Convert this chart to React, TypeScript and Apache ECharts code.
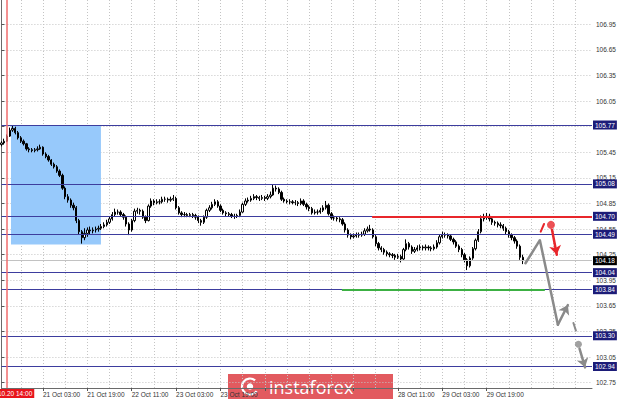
import React, { useEffect, useRef } from 'react';
import * as echarts from 'echarts';

// ---------- data ----------
const firstOpen = 105.54;
const closes = [
  105.56,105.58,105.64,105.71,105.73,105.68,105.62,105.58,105.55,105.49,
  105.48,105.47,105.48,105.49,105.51,105.43,105.40,105.36,105.31,105.28,
  105.23,105.18,105.03,104.93,104.89,104.83,104.80,104.65,104.52,104.45,
  104.50,104.54,104.53,104.54,104.55,104.56,104.58,104.60,104.63,104.67,
  104.72,104.75,104.75,104.72,104.69,104.61,104.54,104.65,104.76,104.77,
  104.76,104.69,104.65,104.82,104.88,104.86,104.87,104.87,104.90,104.90,
  104.89,104.90,104.91,104.80,104.74,104.72,104.72,104.71,104.72,104.71,
  104.69,104.65,104.63,104.69,104.77,104.80,104.84,104.87,104.82,104.77,
  104.74,104.73,104.72,104.70,104.70,104.71,104.75,104.84,104.88,104.89,
  104.91,104.93,104.92,104.91,104.92,104.91,104.93,104.95,105.03,105.02,
  104.98,104.90,104.88,104.87,104.87,104.86,104.86,104.85,104.88,104.84,
  104.81,104.79,104.74,104.75,104.75,104.77,104.80,104.83,104.73,104.68,
  104.68,104.67,104.66,104.61,104.54,104.48,104.46,104.47,104.48,104.48,
  104.49,104.53,104.55,104.54,104.46,104.38,104.33,104.31,104.28,104.26,
  104.25,104.24,104.22,104.23,104.20,104.31,104.38,104.34,104.29,104.31,
  104.33,104.34,104.33,104.34,104.33,104.32,104.34,104.39,104.46,104.48,
  104.48,104.47,104.43,104.40,104.35,104.31,104.25,104.19,104.12,104.21,
  104.32,104.42,104.52,104.67,104.69,104.70,104.67,104.63,104.62,104.60,
  104.59,104.56,104.52,104.48,104.45,104.41,104.35,104.22,104.18,
];
const highs = [
  105.58,105.61,105.66,105.74,105.77,105.75,105.70,105.64,105.60,105.56,
  105.51,105.50,105.50,105.52,105.54,105.52,105.45,105.42,105.37,105.33,
  105.30,105.25,105.20,105.05,104.96,104.91,104.86,104.82,104.67,104.54,
  104.56,104.57,104.58,104.57,104.58,104.59,104.61,104.63,104.66,104.70,
  104.75,104.79,104.78,104.77,104.74,104.71,104.63,104.67,104.79,104.80,
  104.79,104.78,104.71,104.84,104.91,104.90,104.90,104.90,104.93,104.93,
  104.92,104.93,104.95,104.93,104.82,104.76,104.75,104.74,104.74,104.74,
  104.73,104.71,104.67,104.71,104.79,104.83,104.87,104.90,104.89,104.84,
  104.79,104.76,104.75,104.74,104.73,104.73,104.78,104.86,104.91,104.92,
  104.94,104.96,104.95,104.94,104.95,104.94,104.96,104.99,105.07,105.06,
  105.04,105.00,104.92,104.90,104.90,104.89,104.89,104.88,104.91,104.90,
  104.86,104.83,104.81,104.78,104.78,104.80,104.83,104.88,104.85,104.75,
  104.71,104.70,104.69,104.68,104.63,104.56,104.50,104.50,104.51,104.51,
  104.52,104.56,104.58,104.60,104.56,104.48,104.40,104.35,104.33,104.30,
  104.28,104.27,104.26,104.26,104.25,104.33,104.43,104.40,104.36,104.34,
  104.36,104.37,104.36,104.37,104.36,104.35,104.37,104.42,104.49,104.52,
  104.51,104.50,104.49,104.45,104.42,104.37,104.33,104.27,104.21,104.23,
  104.34,104.44,104.55,104.71,104.73,104.74,104.73,104.69,104.65,104.64,
  104.63,104.61,104.58,104.54,104.50,104.47,104.43,104.37,104.25,
];
const lows = [
  105.52,105.54,105.57,105.63,105.69,105.66,105.60,105.56,105.53,105.47,
  105.45,105.45,105.45,105.46,105.48,105.41,105.38,105.34,105.29,105.26,
  105.21,105.16,105.01,104.90,104.86,104.80,104.77,104.62,104.49,104.38,
  104.42,104.46,104.49,104.50,104.51,104.52,104.54,104.56,104.58,104.61,
  104.65,104.70,104.72,104.70,104.66,104.58,104.48,104.52,104.63,104.73,
  104.72,104.67,104.62,104.64,104.80,104.83,104.84,104.84,104.85,104.87,
  104.86,104.87,104.88,104.78,104.72,104.69,104.69,104.69,104.69,104.68,
  104.66,104.62,104.59,104.61,104.67,104.75,104.78,104.82,104.80,104.75,
  104.72,104.70,104.70,104.68,104.67,104.68,104.69,104.74,104.82,104.86,
  104.87,104.89,104.89,104.88,104.89,104.88,104.89,104.91,104.94,104.99,
  104.96,104.88,104.86,104.85,104.84,104.84,104.83,104.82,104.83,104.82,
  104.78,104.76,104.72,104.72,104.72,104.73,104.75,104.78,104.71,104.66,
  104.65,104.64,104.63,104.59,104.51,104.45,104.43,104.44,104.45,104.45,
  104.46,104.47,104.51,104.52,104.44,104.35,104.30,104.28,104.25,104.23,
  104.22,104.21,104.19,104.20,104.16,104.19,104.29,104.31,104.26,104.27,
  104.29,104.30,104.30,104.30,104.30,104.29,104.30,104.32,104.37,104.44,
  104.45,104.44,104.41,104.37,104.33,104.28,104.22,104.16,104.07,104.10,
  104.19,104.30,104.40,104.50,104.64,104.66,104.64,104.60,104.59,104.57,
  104.56,104.53,104.49,104.45,104.42,104.38,104.32,104.19,104.14,
];

const tickValues = [106.95, 106.65, 106.35, 106.05, 105.75, 105.45, 105.15, 104.85, 104.55, 104.25, 103.95, 103.65, 103.35, 103.05, 102.75];
const tickLabelValues = [106.95, 106.65, 106.35, 106.05, 105.45, 105.15, 104.85, 104.55, 104.25, 103.95, 103.65, 103.35, 103.05, 102.75];
const levelLines = [105.77, 105.08, 104.70, 104.49, 104.04, 103.84, 103.30, 102.94];
const bidPrice = 104.18;
const resistanceLevel = 104.70;
const resistanceFrom = 133.7;
const supportLevel = 103.84;
const supportRange = [122.8, 196.0];
const boxRange = { x: [3.46, 35.9], y: [105.77, 104.37] };
const eventIndex = 2;
const eventLabel = '2020.10.20 14:00';
// time labels that sit under the logo in the reference are not shown
const coveredLabelIdx = [95, 111, 127];

// projection drawing (bar index, price)
const grayPath = [[189.0, 104.15], [194.2, 104.42], [200.7, 103.43]];
const grayArrow1 = [[200.7, 103.43], [204.3, 103.66]];
const grayTick = [[206.3, 103.45], [207.2, 103.36]];
const grayDot = [208.1, 103.2];
const grayArrow2 = [[208.5, 103.15], [210.5, 102.93]];
const redTick = [[194.5, 104.52], [195.7, 104.61]];
const redDot = [198.2, 104.6];
const redArrow = [[198.6, 104.54], [200.3, 104.25]];

const totalSlots = 214;
const startUTC = Date.UTC(2020, 9, 20, 12);
const months = ['Jan', 'Feb', 'Mar', 'Apr', 'May', 'Jun', 'Jul', 'Aug', 'Sep', 'Oct', 'Nov', 'Dec'];

function buildTimes(): string[] {
  const out: string[] = [];
  let t = startUTC;
  while (out.length < totalSlots) {
    const d = new Date(t);
    const wd = d.getUTCDay();
    if (wd !== 0 && wd !== 6) {
      const hh = String(d.getUTCHours()).padStart(2, '0');
      out.push(`${d.getUTCDate()} ${months[d.getUTCMonth()]} ${hh}:00`);
    }
    t += 3600000;
  }
  return out;
}

const NAVY_LINE = '#3d3d9e';
const NAVY_BOX = '#1c1c78';
const FONT = '"Liberation Sans", Arial, sans-serif';

export default function App() {
  const ref = useRef<HTMLDivElement>(null);
  useEffect(() => {
    if (!ref.current) return;
    const chart = echarts.init(ref.current, undefined, { renderer: 'svg' });
    const times = buildTimes();
    const lastIdx = closes.length - 1;
    const candles = closes.map((c, i) => [i === 0 ? firstOpen : closes[i - 1], c, lows[i], highs[i]]);
    const tickFn = (i: number) => i % 16 === 15 && i <= lastIdx;
    const labelFn = (i: number) => tickFn(i) && coveredLabelIdx.indexOf(i) < 0;

    const boxLabel = (bg: string) => ({
      show: true,
      position: 'end',
      distance: 1,
      formatter: (p: any) => Number(p.value).toFixed(2),
      backgroundColor: bg,
      color: '#ffffff',
      fontSize: 6.5,
      fontFamily: FONT,
      padding: [1, 2, 1, 2],
    });

    chart.setOption({
      animation: false,
      backgroundColor: '#ffffff',
      grid: { left: 1.4, right: 28, top: 0, bottom: 15, containLabel: false },
      xAxis: [
        {
          type: 'category',
          data: times,
          boundaryGap: false,
          axisLine: { show: true, lineStyle: { color: '#6a6a6a', width: 1 } },
          axisTick: { show: true, interval: tickFn, length: 3, lineStyle: { color: '#555' } },
          axisLabel: {
            interval: labelFn,
            align: 'left',
            margin: 3,
            fontSize: 6.5,
            fontFamily: FONT,
            color: '#333',
          },
          splitLine: { show: true, interval: (i: number) => i % 8 === 7, lineStyle: { color: '#c4c4c4', type: [1, 2] } },
        },
        { type: 'value', min: 0, max: totalSlots - 1, show: false },
      ],
      yAxis: [
        {
          type: 'value',
          position: 'right',
          min: 102.688,
          max: 107.235,
          axisLine: { show: true, lineStyle: { color: '#6a6a6a', width: 1 } },
          axisTick: { show: true, customValues: tickValues, length: 3, lineStyle: { color: '#555' } },
          axisLabel: {
            customValues: tickLabelValues,
            formatter: (v: number) => v.toFixed(2),
            fontSize: 6.5,
            fontFamily: FONT,
            color: '#333',
            margin: 4,
          },
          splitLine: { show: true, lineStyle: { color: '#c4c4c4', type: [1, 2] } },
        },
      ],
      series: [
        {
          type: 'candlestick',
          name: 'USDJPY H1',
          xAxisIndex: 0,
          yAxisIndex: 0,
          data: candles,
          barWidth: 1.8,
          z: 3,
          itemStyle: { color: '#ffffff', color0: '#000000', borderColor: '#000000', borderColor0: '#000000', borderWidth: 1 },
          markLine: {
            silent: true,
            symbol: ['none', 'none'],
            z: 5,
            data: [
              ...levelLines.map((v) => ({ yAxis: v, lineStyle: { color: NAVY_LINE, width: 1, type: 'solid' }, label: boxLabel(NAVY_BOX) })),
              { yAxis: bidPrice, lineStyle: { color: '#c2c2c2', width: 1, type: 'solid' }, label: boxLabel('#000000') },
            ],
          },
        },
        {
          type: 'scatter',
          xAxisIndex: 1,
          yAxisIndex: 0,
          z: 7,
          symbolSize: 8,
          data: [
            { value: redDot, itemStyle: { color: '#e8262b' }, symbolSize: 8 },
            { value: grayDot, itemStyle: { color: '#8a8a8a' }, symbolSize: 7 },
          ],
          markArea: {
            silent: true,
            itemStyle: { color: '#97c9fb', opacity: 1 },
            data: [[{ coord: [boxRange.x[0], boxRange.y[0]] }, { coord: [boxRange.x[1], boxRange.y[1]] }]],
          },
          markLine: {
            silent: true,
            symbol: ['none', 'none'],
            z: 6,
            data: [
              [
                { coord: [resistanceFrom, resistanceLevel], lineStyle: { color: '#e8262b', width: 2, type: 'solid' }, label: { show: false } },
                { coord: [totalSlots - 1, resistanceLevel] },
              ],
              [
                { coord: [supportRange[0], supportLevel], lineStyle: { color: '#3cb043', width: 2, type: 'solid' }, label: { show: false } },
                { coord: [supportRange[1], supportLevel] },
              ],
              {
                xAxis: eventIndex,
                lineStyle: { color: '#f06c6c', width: 1.5, type: 'solid' },
                label: {
                  show: true,
                  position: 'start',
                  distance: 1,
                  formatter: eventLabel,
                  backgroundColor: '#e8141c',
                  color: '#ffffff',
                  fontSize: 6.5,
                  fontFamily: FONT,
                  padding: [1, 2, 1, 2],
                },
              },
            ],
          },
        },
        {
          type: 'lines',
          coordinateSystem: 'cartesian2d',
          xAxisIndex: 1,
          yAxisIndex: 0,
          z: 6,
          symbol: ['none', 'none'],
          lineStyle: { width: 2.5, opacity: 1, cap: 'round', join: 'round' },
          data: [
            { coords: grayPath, lineStyle: { color: '#8a8a8a' } },
            { coords: grayTick, lineStyle: { color: '#8a8a8a', width: 2 } },
            { coords: redTick, lineStyle: { color: '#e8262b', width: 2 } },
          ],
          polyline: true,
        },
        {
          type: 'lines',
          coordinateSystem: 'cartesian2d',
          xAxisIndex: 1,
          yAxisIndex: 0,
          z: 6,
          symbol: ['none', 'arrow'],
          symbolSize: 9,
          lineStyle: { width: 2.5, opacity: 1, cap: 'round' },
          data: [
            { coords: grayArrow1, lineStyle: { color: '#8a8a8a' } },
            { coords: grayArrow2, lineStyle: { color: '#8a8a8a' } },
            { coords: redArrow, lineStyle: { color: '#e8262b' } },
          ],
        },
      ],
      graphic: [
        {
          type: 'group',
          x: 228,
          y: 374,
          z: 100,
          children: [
            { type: 'rect', shape: { x: 0, y: 0, width: 165, height: 25 }, style: { fill: '#e25a5f' } },
            { type: 'arc', shape: { cx: 22, cy: 12.5, r: 8, startAngle: 0.6, endAngle: 5.4 }, style: { stroke: '#ffffff', lineWidth: 2.2, fill: 'none' } },
            { type: 'circle', shape: { cx: 22, cy: 12.5, r: 3.2 }, style: { fill: '#ffffff' } },
            {
              type: 'text',
              x: 41,
              y: 12.5,
              style: { text: 'instaforex', fill: '#ffffff', font: '18px "Open Sans", "Liberation Sans", sans-serif', verticalAlign: 'middle' },
            },
          ],
        },
      ],
    });
    return () => chart.dispose();
  }, []);
  return <div ref={ref} style={{ position: 'fixed', left: 0, top: 0, width: 620, height: 403 }} />;
}
